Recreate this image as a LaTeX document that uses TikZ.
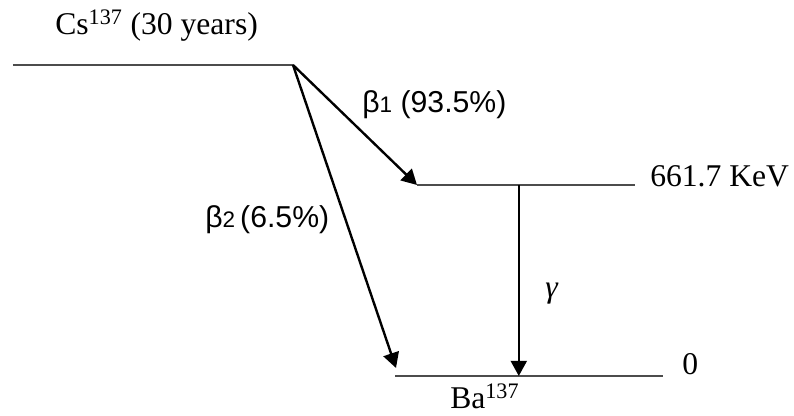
\documentclass[tikz,border=0pt]{standalone}
\usepackage{fontspec}
\setmainfont{Liberation Serif}
\newfontfamily\sansfnt{Liberation Sans}
\usetikzlibrary{arrows.meta}

\begin{document}
\begin{tikzpicture}[
    >={Triangle[length=0.38cm, width=0.4cm]}, % Pfeilspitzen
    % --- Stile ---
    level/.style={line width=1.1pt, draw=black!70},
    decay/.style={->, line width=1.7pt, draw=black},
    serifLabel/.style={inner sep=0pt, font=\fontsize{22.5}{27}\selectfont},
    sansLabel/.style={inner sep=0pt, font=\sansfnt\fontsize{21.5}{26}\selectfont}
]
    \useasboundingbox (0,0) rectangle (19.85,10.4);

    % ===========================
    % 1. NIVEAUS
    % ===========================
    \coordinate (csL)  at (0.325, 8.775);
    \coordinate (csR)  at (7.325, 8.775);
    \coordinate (exL)  at (10.425, 5.775);
    \coordinate (exR)  at (15.875, 5.775);
    \coordinate (exG)  at (12.97, 5.775);
    \coordinate (gsL)  at (9.875, 1.0);
    \coordinate (gsR)  at (16.575, 1.0);
    \coordinate (gsG)  at (12.97, 1.0);
    \coordinate (gsB2) at (9.9, 1.2);

    \draw[level] (csL) -- (csR);
    \draw[level] (exL) -- (exR);
    \draw[level] (gsL) -- (gsR);

    % ===========================
    % 2. BESCHRIFTUNGEN
    % ===========================
    \node[serifLabel, anchor=base west] (cs)   at (1.375, 9.525)  {Cs\textsuperscript{137} (30 years)};
    \node[serifLabel, anchor=base west] (ex)   at (16.25, 5.725)  {661.7 KeV};
    \node[serifLabel, anchor=base west] (gs)   at (17.05, 1.025)  {0};
    \node[serifLabel, anchor=base west] (ba)   at (11.25, 0.18)   {Ba\textsuperscript{137}};
    \node[sansLabel, anchor=base west]  (b1)   at (9.05, 7.575)   {β{\fontsize{16}{18}\selectfont 1} (93.5\%)};
    \node[sansLabel, anchor=base west]  (b2)   at (5.125, 4.7)    {β{\fontsize{16}{18}\selectfont 2}\,(6.5\%)};
    \node[serifLabel, anchor=base west] (gam)  at (13.625, 2.95)  {\itshape γ};

    % ===========================
    % 3. UEBERGAENGE
    % ===========================
    \draw[decay] (csR) -- (exL);
    \draw[decay] (csR) -- (gsB2);
    \draw[decay] (exG) -- (gsG);

\end{tikzpicture}
\end{document}
